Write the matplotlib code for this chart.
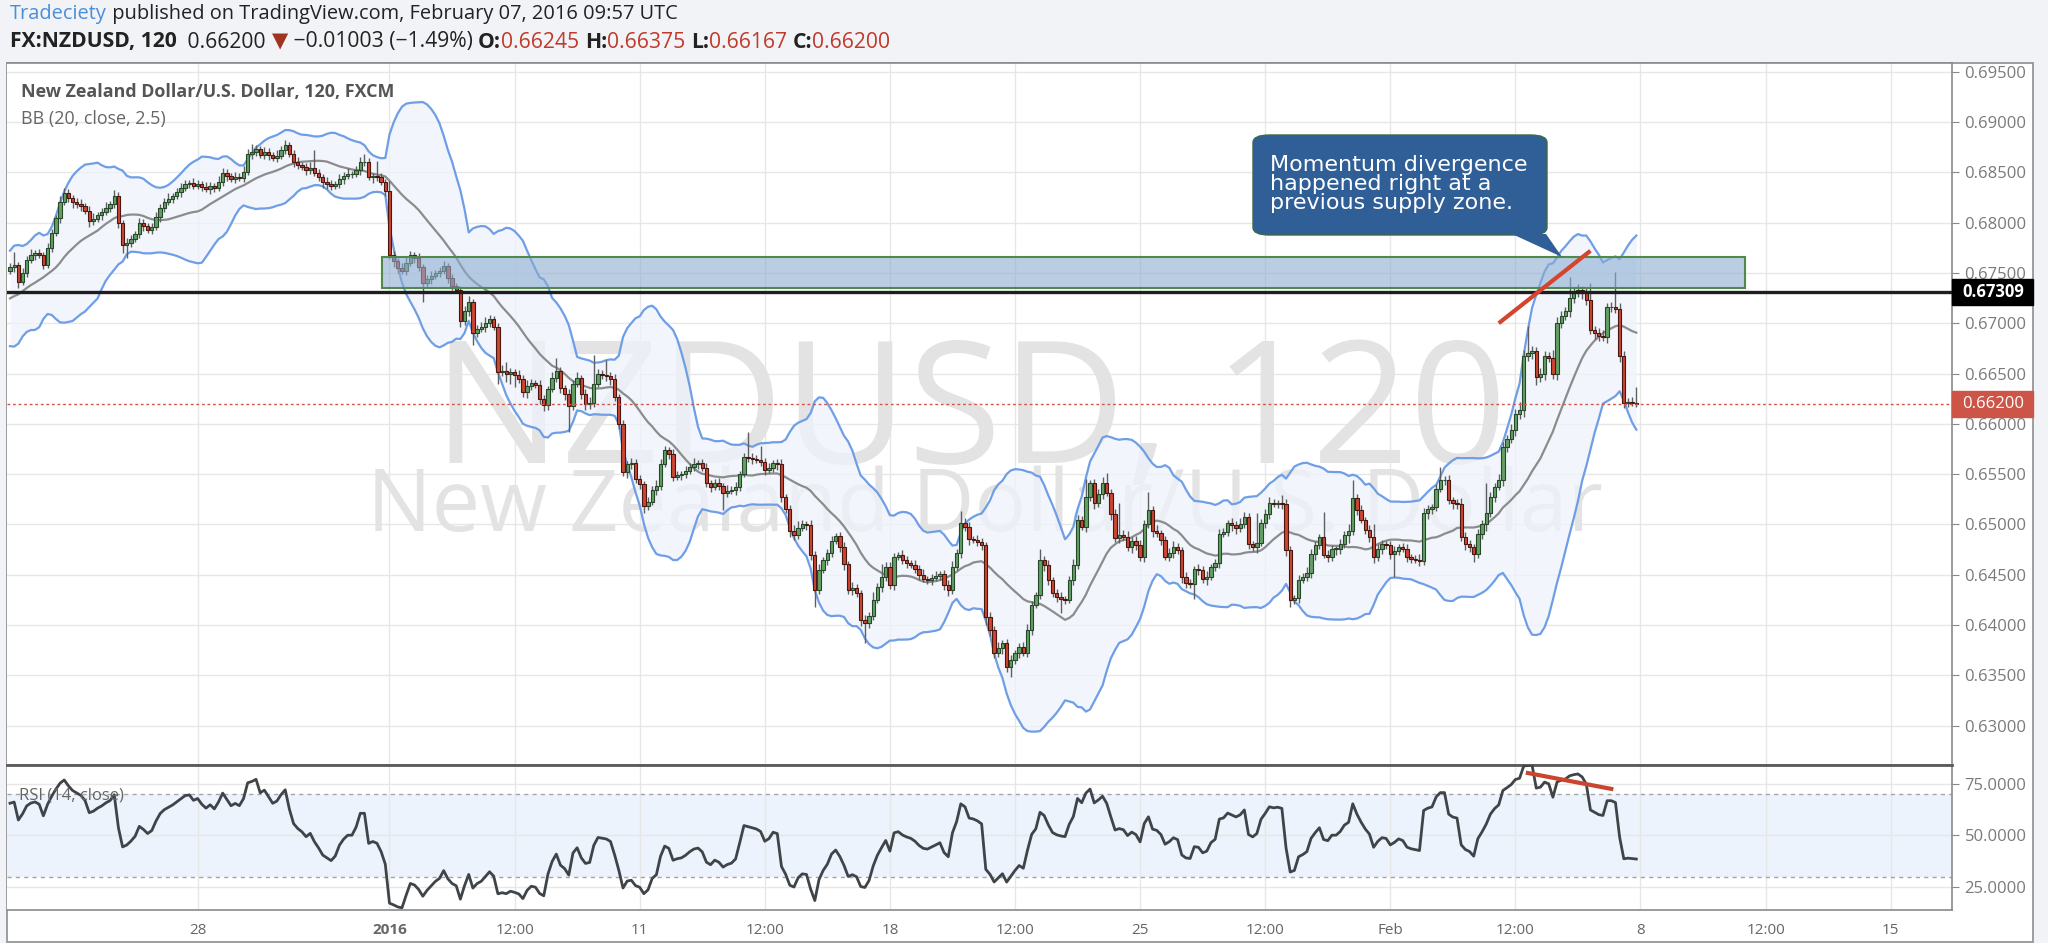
import numpy as np
import pandas as pd
import matplotlib
matplotlib.use("Agg")
import matplotlib.pyplot as plt
from matplotlib import font_manager
from matplotlib.patches import Rectangle, FancyBboxPatch, Polygon
from matplotlib.transforms import blended_transform_factory

W, H, DPI = 2048, 943, 100

# NZDUSD 120 min closes, in pips (0.0001); open = previous close
# a few closes before the first visible bar, guessed from where the bands start
prior_close = [6700, 6712, 6705, 6690, 6698, 6710, 6722, 6715, 6703, 6712,
               6728, 6735, 6726, 6718, 6730, 6742, 6738, 6745, 6756, 6752]

close_dec21 = [6756, 6758, 6741, 6750, 6763, 6768, 6770, 6768, 6758, 6775,
               6790, 6805, 6820, 6829, 6824, 6820, 6818, 6816, 6812, 6802,
               6804, 6808, 6811, 6815, 6818, 6826, 6800, 6778, 6780, 6784,
               6789, 6800, 6797, 6793, 6796, 6806, 6815, 6820, 6823, 6826,
               6830, 6834, 6838, 6839, 6836]
close_dec28 = [6838, 6835, 6833, 6836, 6834, 6840, 6849, 6846, 6843, 6845,
               6844, 6850, 6868, 6870, 6873, 6867, 6870, 6867, 6864, 6866,
               6872, 6877, 6868, 6860, 6857, 6855, 6852, 6854, 6849, 6845,
               6840, 6838, 6836, 6838, 6843, 6846, 6848, 6848, 6852, 6860,
               6860, 6845, 6846, 6845, 6840, 6831]
close_jan04 = [6768, 6762, 6755, 6752, 6760, 6768, 6765, 6756, 6740, 6744,
               6747, 6750, 6752, 6757, 6745, 6737, 6733, 6702, 6712, 6721,
               6690, 6694, 6696, 6700, 6704, 6696, 6652, 6653, 6650, 6652,
               6649, 6645, 6632, 6638, 6641, 6639, 6625, 6619, 6635, 6646,
               6653, 6636, 6630, 6618, 6640, 6646, 6630, 6620, 6621, 6640,
               6650, 6649, 6648, 6645, 6627, 6600, 6552, 6560, 6561, 6545]
close_jan11 = [6540, 6518, 6522, 6534, 6538, 6560, 6574, 6570, 6547, 6549,
               6550, 6553, 6557, 6560, 6561, 6556, 6541, 6537, 6541, 6538,
               6531, 6533, 6534, 6537, 6550, 6567, 6566, 6565, 6564, 6562,
               6554, 6556, 6561, 6560, 6527, 6515, 6494, 6490, 6497, 6500,
               6499, 6470, 6435, 6455, 6465, 6472, 6484, 6489, 6478, 6461,
               6435, 6437, 6432, 6405, 6402, 6409, 6425, 6438, 6448, 6458]
close_jan18 = [6440, 6468, 6470, 6465, 6462, 6460, 6456, 6450, 6446, 6445,
               6447, 6449, 6451, 6440, 6435, 6458, 6472, 6501, 6498, 6486,
               6485, 6483, 6480, 6408, 6395, 6372, 6377, 6382, 6358, 6365,
               6372, 6378, 6372, 6395, 6420, 6430, 6465, 6460, 6445, 6432,
               6428, 6426, 6425, 6445, 6460, 6504, 6498, 6527, 6541, 6521,
               6530, 6541, 6531, 6510, 6487, 6490, 6488, 6478, 6484, 6480]
close_jan25 = [6468, 6500, 6514, 6494, 6492, 6485, 6468, 6472, 6478, 6475,
               6448, 6442, 6441, 6456, 6455, 6446, 6448, 6458, 6462, 6491,
               6493, 6501, 6499, 6497, 6500, 6507, 6481, 6478, 6482, 6501,
               6510, 6521, 6520, 6521, 6520, 6475, 6425, 6427, 6445, 6448,
               6452, 6471, 6480, 6488, 6470, 6468, 6476, 6476, 6481, 6490,
               6494, 6526, 6514, 6504, 6495, 6488, 6468, 6476, 6481, 6480]
close_feb01 = [6471, 6474, 6478, 6476, 6468, 6466, 6465, 6464, 6511, 6515,
               6517, 6535, 6544, 6544, 6524, 6521, 6520, 6488, 6481, 6478,
               6471, 6491, 6500, 6511, 6527, 6537, 6544, 6577, 6585, 6594,
               6610, 6614, 6667, 6670, 6672, 6647, 6650, 6667, 6665, 6650,
               6700, 6707, 6712, 6725, 6730, 6733, 6730, 6723, 6693, 6690,
               6687, 6686, 6716, 6716, 6714, 6667, 6621, 6622, 6621, 6620]

# wick lengths in pips above / below the body
up_dec21 = [4, 13, 3, 5, 4, 6, 3, 4, 3, 5, 4, 3, 6, 5, 4, 3, 4, 5, 3, 4, 6, 3, 4,
            5, 3, 6, 4, 3, 5, 4, 3, 5, 4, 3, 4, 5, 3, 4, 6, 3, 4, 5, 4, 3, 5]
dn_dec21 = [3, 5, 6, 3, 4, 3, 5, 3, 4, 3, 4, 3, 5, 3, 4, 5, 3, 4, 3, 6, 4, 3, 5,
            3, 4, 3, 5, 8, 13, 4, 3, 4, 5, 3, 4, 3, 5, 4, 3, 4, 3, 5, 3, 4, 3]
up_dec28 = [4, 3, 5, 4, 3, 6, 5, 4, 3, 5, 4, 6, 5, 8, 4, 3, 5, 4, 3, 6, 4, 5, 3,
            4, 5, 3, 4, 6, 18, 4, 3, 5, 4, 3, 5, 4, 6, 3, 4, 5, 8, 4, 3, 15, 4, 3]
dn_dec28 = [3, 4, 3, 5, 4, 3, 4, 5, 3, 4, 3, 4, 3, 5, 4, 3, 4, 5, 3, 4, 3, 4, 3,
            5, 4, 3, 5, 4, 3, 4, 6, 5, 4, 3, 4, 5, 3, 4, 3, 5, 4, 3, 6, 4, 3, 5]
up_jan04 = [10, 4, 3, 5, 6, 4, 3, 5, 3, 4, 5, 3, 4, 5, 3, 4, 3, 4, 5, 6,
            3, 4, 5, 6, 4, 3, 4, 5, 8, 4, 3, 5, 4, 6, 4, 3, 5, 4, 3, 6,
            12, 4, 3, 5, 4, 6, 3, 5, 6, 28, 5, 4, 14, 4, 5, 3, 4, 3, 5, 4]
dn_jan04 = [4, 6, 5, 3, 4, 3, 5, 4, 19, 4, 5, 3, 4, 3, 5, 4, 3, 6, 4, 5,
            12, 4, 3, 5, 4, 3, 12, 4, 8, 10, 12, 4, 5, 6, 4, 3, 5, 6, 5, 3,
            4, 5, 6, 26, 4, 3, 5, 6, 5, 4, 3, 4, 5, 6, 4, 5, 4, 6, 5, 4]
up_jan11 = [4, 3, 5, 4, 6, 5, 4, 3, 5, 4, 3, 5, 4, 6, 3, 4, 5, 3, 4, 5,
            3, 6, 4, 5, 3, 4, 25, 5, 4, 14, 4, 5, 3, 4, 5, 3, 4, 5, 6, 4,
            3, 5, 4, 6, 3, 4, 5, 3, 4, 5, 3, 6, 4, 3, 5, 4, 8, 4, 13, 5]
dn_jan11 = [5, 7, 4, 3, 5, 4, 3, 5, 4, 3, 5, 4, 3, 4, 5, 3, 4, 5, 3, 4,
            17, 4, 3, 5, 4, 3, 4, 5, 3, 4, 5, 3, 4, 6, 5, 4, 6, 5, 4, 3,
            4, 5, 17, 4, 3, 5, 4, 3, 5, 6, 4, 5, 4, 6, 20, 5, 4, 3, 5, 4]
up_jan18 = [5, 4, 3, 5, 4, 3, 5, 4, 6, 3, 4, 5, 3, 4, 5, 6, 4, 12, 5, 4,
            3, 5, 4, 3, 5, 4, 6, 3, 4, 5, 3, 4, 5, 6, 4, 3, 11, 4, 5, 3,
            4, 5, 3, 4, 6, 5, 4, 18, 3, 4, 5, 6, 10, 4, 5, 31, 5, 6, 4, 5]
dn_jan18 = [4, 5, 3, 4, 5, 3, 4, 5, 3, 4, 5, 3, 4, 5, 6, 4, 3, 5, 4, 6,
            3, 4, 5, 8, 6, 5, 4, 6, 5, 10, 4, 5, 3, 4, 5, 3, 4, 6, 5, 4,
            5, 14, 4, 3, 5, 4, 3, 5, 4, 6, 4, 5, 3, 6, 4, 5, 3, 4, 6, 5]
up_jan25 = [5, 4, 18, 4, 5, 3, 4, 5, 6, 4, 3, 5, 4, 3, 5, 4, 6, 3, 4, 5,
            4, 3, 5, 4, 6, 5, 4, 3, 29, 4, 5, 6, 4, 3, 8, 5, 4, 3, 5, 4,
            6, 5, 4, 3, 24, 5, 4, 3, 5, 4, 6, 18, 4, 5, 3, 4, 12, 5, 4, 3]
dn_jan25 = [4, 5, 3, 6, 4, 5, 3, 4, 5, 4, 6, 5, 4, 15, 5, 4, 6, 3, 4, 5,
            3, 4, 5, 6, 4, 3, 5, 4, 6, 3, 4, 5, 3, 4, 5, 6, 7, 4, 5, 3,
            4, 5, 6, 4, 3, 5, 4, 6, 5, 4, 8, 4, 5, 3, 4, 5, 6, 4, 5, 4]
up_feb01 = [4, 5, 3, 4, 5, 3, 4, 6, 5, 4, 3, 5, 13, 4, 5, 3, 4, 6, 5, 4,
            3, 5, 4, 30, 5, 4, 6, 5, 4, 6, 5, 8, 6, 27, 5, 4, 6, 5, 4, 8,
            6, 5, 4, 21, 5, 6, 4, 5, 17, 4, 5, 6, 4, 5, 35, 6, 5, 4, 5, 16]
dn_feb01 = [5, 23, 4, 3, 5, 4, 3, 5, 4, 6, 5, 4, 3, 5, 4, 6, 5, 4, 6, 5,
            8, 4, 5, 6, 4, 5, 3, 6, 5, 4, 6, 5, 7, 5, 6, 8, 5, 6, 4, 5,
            6, 5, 4, 6, 5, 4, 6, 5, 4, 6, 5, 4, 6, 5, 4, 6, 5, 4, 3, 3]

# time axis, in bar numbers (weekends removed)
tick_pos = [45, 91, 121, 151, 181, 211, 241, 271, 301, 331, 361, 391, 421, 451]
tick_lab = ["28", "2016", "12:00", "11", "12:00", "18", "12:00", "25",
            "12:00", "Feb", "12:00", "8", "12:00", "15"]

price_ticks = [0.630, 0.635, 0.640, 0.645, 0.650, 0.655, 0.660, 0.665,
               0.670, 0.675, 0.680, 0.685, 0.690, 0.695]
rsi_ticks = [25, 50, 75]

# drawings on the chart
zone_bars = [89.2, 416.0]
zone_price = [0.67355, 0.67660]
level_price = 0.67309
last_price = 0.66200
div_bars = [357, 379]
div_price = [0.6700, 0.6772]
rsi_div_bars = [364, 384]
rsi_div_val = [80.3, 72.6]

YMIN, YMAX = 0.62610, 0.69586


def fx(px):
    return px / W


def fy(py):
    return 1 - py / H


def rma(x, length):
    # wilder average, seeded with a plain mean like TradingView
    out = np.full(len(x), np.nan)
    out[length] = np.mean(x[1:length + 1])
    for k in range(length + 1, len(x)):
        out[k] = (out[k - 1] * (length - 1) + x[k]) / length
    return out


def has_font(name):
    try:
        font_manager.findfont(font_manager.FontProperties(family=name),
                              fallback_to_default=False)
        return True
    except ValueError:
        return False


close = np.array(close_dec21 + close_dec28 + close_jan04 + close_jan11
                 + close_jan18 + close_jan25 + close_feb01) / 1e4
up_w = np.array(up_dec21 + up_dec28 + up_jan04 + up_jan11 + up_jan18
                + up_jan25 + up_feb01) / 1e4
dn_w = np.array(dn_dec21 + dn_dec28 + dn_jan04 + dn_jan11 + dn_jan18
                + dn_jan25 + dn_feb01) / 1e4
n = len(close)
idx = np.arange(n)
opn = np.r_[prior_close[-1] / 1e4, close[:-1]]
high = np.maximum(opn, close) + up_w
low = np.minimum(opn, close) - dn_w

full = pd.Series(np.r_[np.array(prior_close) / 1e4, close])
basis = full.rolling(20).mean()
sd = full.rolling(20).std(ddof=0)
bb_mid = basis.values[-n:]
bb_up = (basis + 2.5 * sd).values[-n:]
bb_lo = (basis - 2.5 * sd).values[-n:]

delta = full.diff().fillna(0).values
gain = rma(np.clip(delta, 0, None), 14)
loss = rma(np.clip(-delta, 0, None), 14)
rsi = (100 - 100 / (1 + gain / loss))[-n:]

fig = plt.figure(figsize=(W / DPI, H / DPI), dpi=DPI, facecolor="#f1f3f6")
fig.add_artist(Rectangle((fx(7), fy(942)), fx(2033 - 7), (942 - 63) / H,
                         transform=fig.transFigure, fc="white", ec="#8d8d8d",
                         lw=1.2, zorder=-10))

ax = fig.add_axes([fx(7), fy(765), fx(1945), 702 / H])
ax2 = fig.add_axes([fx(7), fy(910), fx(1945), 145 / H], sharex=ax)

grid_c = "#e7e7e7"
for a in (ax, ax2):
    a.set_facecolor("white")
    a.set_xticks(tick_pos)
    a.grid(True, color=grid_c, lw=1, zorder=0)
    a.set_axisbelow(True)
    a.yaxis.tick_right()
    a.tick_params(axis="y", direction="out", length=5, color="#888888",
                  labelsize=12, labelcolor="#7a7a7a", pad=4)
    for s in a.spines.values():
        s.set_color("#8a8a8a")
        s.set_linewidth(1.2)
    a.spines["left"].set_visible(False)
ax2.spines["top"].set_color("#5a5a5a")
ax2.spines["top"].set_linewidth(2)

ax.set_xlim(-0.72, 465.7)
ax.set_ylim(YMIN, YMAX)
ax.set_yticks(price_ticks)
ax.set_yticklabels(["%.5f" % v for v in price_ticks], family="Open Sans")
ax.tick_params(axis="x", length=0, labelbottom=False)

# watermark (a narrow face is closer to the original one)
if has_font("Liberation Sans Narrow"):
    wm_font, wm_big, wm_small = "Liberation Sans Narrow", 151, 72
else:
    wm_font, wm_big, wm_small = "Open Sans", 123, 62
ax.text(0.495, (765 - 463) / 702, "NZDUSD, 120", transform=ax.transAxes,
        ha="center", va="baseline", fontsize=wm_big, color="#e3e3e3",
        family=wm_font, zorder=1)
ax.text(0.503, (765 - 531) / 702, "New Zealand Dollar/U.S. Dollar",
        transform=ax.transAxes, ha="center", va="baseline", fontsize=wm_small,
        color="#e3e3e3", family=wm_font, zorder=1)

# bollinger bands
ax.fill_between(idx, bb_lo, bb_up, color="#eef4fc", alpha=0.75, lw=0, zorder=1.5)
ax.plot(idx, bb_up, color="#6f9ee6", lw=1.6, zorder=2)
ax.plot(idx, bb_lo, color="#6f9ee6", lw=1.6, zorder=2)
ax.plot(idx, bb_mid, color="#8c8c8c", lw=1.6, zorder=2)

# candles
ax.vlines(idx, low, high, color="#5f5f61", lw=1, zorder=3)
rise = close >= opn
body = np.maximum(np.abs(close - opn), 0.00006)
ax.bar(idx[rise], body[rise], bottom=np.minimum(opn, close)[rise], width=0.8,
       color="#63a063", edgecolor="#27472a", lw=0.8, zorder=4)
ax.bar(idx[~rise], body[~rise], bottom=np.minimum(opn, close)[~rise], width=0.8,
       color="#cc4632", edgecolor="#4a1710", lw=0.8, zorder=4)

# supply zone, levels, divergence line
ax.add_patch(Rectangle((zone_bars[0], zone_price[0]), zone_bars[1] - zone_bars[0],
                       zone_price[1] - zone_price[0], fc=(0.55, 0.68, 0.82, 0.6),
                       ec="#4f8a4a", lw=1.5, zorder=5))
ax.axhline(level_price, color="#1e1e1e", lw=2.4, zorder=6)
ax.axhline(last_price, color="#d0564a", lw=1, ls=(0, (2, 2)), zorder=6)
ax.plot(div_bars, div_price, color="#d4452f", lw=3, solid_capstyle="butt", zorder=7)

# price labels on the scale
tr = blended_transform_factory(ax.transAxes, ax.transData)
per_px = (YMAX - YMIN) / 702
for val, fc, wt in [(level_price, "black", "bold"), (last_price, "#cc5547", "normal")]:
    ax.add_patch(Rectangle((1.0, val - 13 * per_px), 81 / 1945, 26 * per_px,
                           transform=tr, fc=fc, ec=fc, clip_on=False, zorder=9))
    ax.text(1.0 + 10 / 1945, val, "%.5f" % val, transform=tr, color="white",
            fontsize=12, fontweight=wt, family="Open Sans", va="center",
            ha="left", clip_on=False, zorder=10)

# RSI pane
ax2.set_ylim(13.8, 84.2)
ax2.axhspan(30, 70, color="#edf3fc", lw=0, zorder=0.5)
ax2.axhline(70, color="#a5a5a5", lw=1, ls=(0, (3, 3)), zorder=1)
ax2.axhline(30, color="#a5a5a5", lw=1, ls=(0, (3, 3)), zorder=1)
ax2.plot(idx, rsi, color="#3f4448", lw=2, zorder=3)
ax2.plot(rsi_div_bars, rsi_div_val, color="#c9452f", lw=3, zorder=4)
ax2.set_yticks(rsi_ticks)
ax2.set_yticklabels(["%.4f" % v for v in rsi_ticks], family="Open Sans")
ax2.tick_params(axis="x", length=0, pad=9, labelsize=11, labelcolor="#666666")
ax2.set_xticklabels(tick_lab, family="Open Sans")
for lab in ax2.get_xticklabels():
    if lab.get_text() == "2016":
        lab.set_fontweight("bold")

# pane titles
fig.text(fx(21), fy(92), "New Zealand Dollar/U.S. Dollar, 120, FXCM",
         fontsize=12.9, fontweight="bold", color="#555555", family="Open Sans",
         va="center")
fig.text(fx(21), fy(119), "BB (20, close, 2.5)", fontsize=12.9, color="#666666",
         family="Open Sans", va="center")
fig.text(fx(19), fy(796), "RSI (14, close)", fontsize=12, color="#666666",
         family="Open Sans", va="center", zorder=20)

# callout
box_c = "#2f5f96"
fig.add_artist(FancyBboxPatch((fx(1253), fy(235)), fx(294), 100 / H,
                              boxstyle="round,pad=0,rounding_size=0.008",
                              transform=fig.transFigure, fc=box_c, ec="#3d6a45",
                              lw=1, zorder=8))
fig.add_artist(Polygon([(fx(1512), fy(234)), (fx(1546), fy(234)),
                        (fx(1562), fy(257))], closed=True,
                       transform=fig.transFigure, fc=box_c, ec="none", zorder=8))
fig.text(fx(1270), fy(184), "Momentum divergence\nhappened right at a\nprevious supply zone.",
         color="white", fontsize=16, family="DejaVu Sans", va="center",
         linespacing=0.96, zorder=9)

# header
renderer = fig.canvas.get_renderer()


def draw_runs(runs, x, y, size):
    for txt, col, wt in runs:
        t = fig.text(fx(x), fy(y), txt, color=col, fontsize=size, fontweight=wt,
                     family=["Open Sans", "DejaVu Sans"], va="center", ha="left")
        x += t.get_window_extent(renderer=renderer).width


red = "#c0392b"
dark = "#222222"
draw_runs([("Tradeciety", "#4a8fd8", "normal"),
           (" published on TradingView.com, February 07, 2016 09:57 UTC", dark, "normal")],
          10, 14, 14.4)
draw_runs([("FX:NZDUSD, 120 ", dark, "bold"), (" 0.66200 ", dark, "normal"),
           ("\u25bc", "#a0341f", "normal"), (" \u22120.01003 (\u22121.49%) ", dark, "normal"),
           ("O:", dark, "bold"), ("0.66245 ", red, "normal"),
           ("H:", dark, "bold"), ("0.66375 ", red, "normal"),
           ("L:", dark, "bold"), ("0.66167 ", red, "normal"),
           ("C:", dark, "bold"), ("0.66200", red, "normal")],
          10, 42, 15.2)

fig.savefig("out.png", dpi=DPI, facecolor=fig.get_facecolor())
